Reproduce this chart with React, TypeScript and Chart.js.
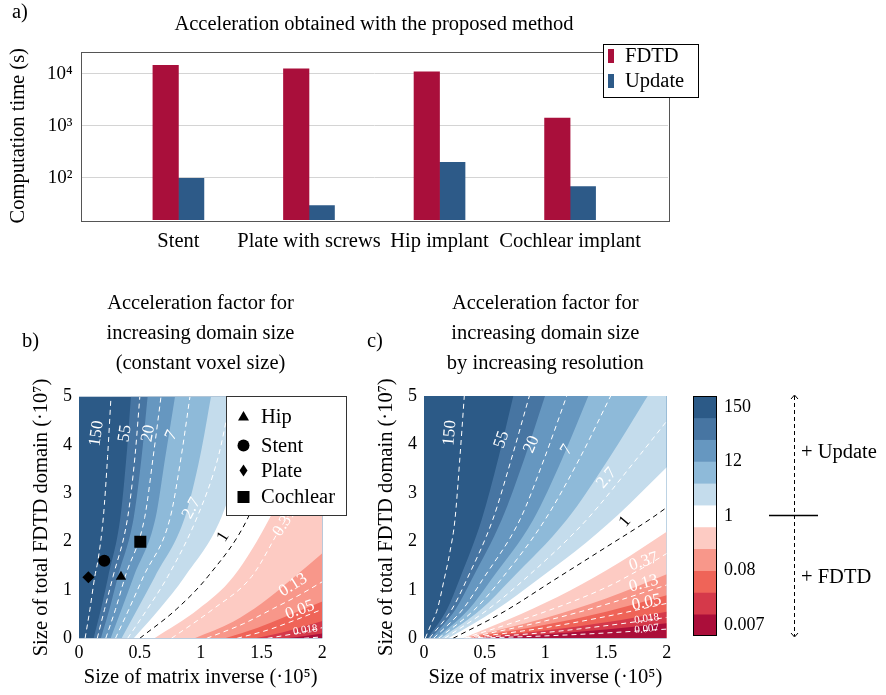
import React, { useEffect, useRef } from 'react';
import { Chart, registerables } from 'chart.js';

Chart.register(...registerables);

const W = 886;
const H = 695;
const FONT = "'Liberation Serif', 'Times New Roman', serif";
const TXT = 20.5; // word text size
const NUM = 18; // numeric tick size
Chart.defaults.font.family = FONT;
Chart.defaults.color = '#000';

// ---------------- Panel a data ----------------
const categories = ['Stent', 'Plate with screws', 'Hip implant', 'Cochlear implant'];
const seriesNames = ['FDTD', 'Update'];
const fdtdTimes = [14500, 12500, 10900, 1400];
const updateTimes = [97, 29, 198, 67];
const timeTickValues = [100, 1000, 10000];
const timeTickLabels = ['10²', '10³', '10⁴'];
const FDTD_COLOR = '#a90f3b';
const UPDATE_COLOR = '#2d5a88';

// ---------------- contour levels ----------------
const bandColors = ['#2c5a87', '#4775a2', '#6697c0', '#8ebad9', '#c4dcec', '#ffffff', '#fdcbc3', '#f8978a', '#ef6458', '#d5394a', '#ab0e3a'];
const lineLevels = [5, 4, 3, 2, 1, 0, -1, -2, -3, -4, -5]; // ln(acceleration)
const cbTickValues = [5, 2.5, 0, -2.5, -5];
const cbTickLabels = ['150', '12', '1', '0.08', '0.007'];

// panel b: band boundaries (ln = 4.5 ... -4.5), [x, y] points
const bEdges = [
  [[0.12, 0], [0.18, 0.6], [0.24, 1.28], [0.34, 2.5], [0.39, 3.76], [0.427, 5]],
  [[0.18, 0], [0.25, 0.6], [0.32, 1.28], [0.45, 2.5], [0.515, 3.76], [0.564, 5]],
  [[0.26, 0], [0.35, 0.6], [0.45, 1.28], [0.63, 2.5], [0.71, 3.76], [0.789, 5]],
  [[0.35, 0], [0.48, 0.6], [0.625, 1.28], [0.87, 2.5], [0.995, 3.76], [1.085, 5]],
  [[0.45, 0], [0.66, 0.6], [0.87, 1.28], [1.17, 2.5], [1.33, 3.76], [1.45, 5]],
  [[0.62, 0], [0.98, 0.6], [1.27, 1.28], [1.57, 2.5], [1.8, 3.76], [1.97, 5]],
  [[0.95, 0], [1.27, 0.35], [1.5, 0.72], [1.76, 1.25], [2, 1.76]],
  [[1.2, 0], [1.47, 0.22], [1.7, 0.45], [2, 0.76]],
  [[1.45, 0], [1.67, 0.12], [1.85, 0.25], [2, 0.36]],
  [[1.7, 0], [1.86, 0.05], [2, 0.1]],
];
// panel b: dashed contour lines (ln = 5 ... -5)
const bLines = [
  [[0.05, 0], [0.09, 0.6], [0.13, 1.28], [0.155, 1.6], [0.2, 2.5], [0.235, 3.76], [0.263, 5]],
  [[0.15, 0], [0.21, 0.6], [0.28, 1.28], [0.4, 2.5], [0.46, 3.76], [0.5, 5]],
  [[0.22, 0], [0.3, 0.6], [0.38, 1.28], [0.54, 2.5], [0.61, 3.76], [0.674, 5]],
  [[0.3, 0], [0.41, 0.6], [0.53, 1.28], [0.75, 2.5], [0.84, 3.76], [0.912, 5]],
  [[0.4, 0], [0.56, 0.6], [0.73, 1.28], [0.97, 2.5], [1.145, 3.76], [1.25, 5]],
  [[0.5, 0], [0.8, 0.6], [1.06, 1.28], [1.39, 2.5], [1.58, 3.76], [1.72, 5]],
  [[0.76, 0], [1.1, 0.6], [1.42, 1.28], [1.67, 2.34], [1.85, 3.0], [2, 3.6]],
  [[1.05, 0], [1.35, 0.3], [1.6, 0.62], [1.8, 0.88], [2, 1.17]],
  [[1.3, 0], [1.55, 0.17], [1.78, 0.38], [2, 0.6]],
  [[1.55, 0], [1.78, 0.1], [2, 0.22]],
  [[1.85, 0], [2, 0.03]],
];
const bLabelText = ['150', '55', '20', '7', '2.7', '1', '0.37', '0.13', '0.05', '0.018'];
const bLabelX = [0.145, 0.378, 0.57, 0.76, 0.926, 1.186, 1.69, 1.76, 1.816, 1.86];
const bLabelY = [4.24, 4.24, 4.24, 4.2, 2.69, 2.1, 2.4, 1.1, 0.586, 0.17];
const bLabelRot = [-82, -82, -80, -65, -62, -58, -58, -32, -20, -8];

// panel c
const cEdges = [
  [[0.03, 0], [0.19, 0.6], [0.29, 1.2], [0.475, 2.445], [0.611, 3.7], [0.736, 5]],
  [[0.06, 0], [0.26, 0.6], [0.39, 1.2], [0.64, 2.445], [0.826, 3.7], [0.997, 5]],
  [[0.1, 0], [0.37, 0.6], [0.55, 1.2], [0.9, 2.445], [1.138, 3.7], [1.354, 5]],
  [[0.14, 0], [0.47, 0.6], [0.71, 1.2], [1.176, 2.445], [1.521, 3.7], [1.843, 5]],
  [[0.2, 0], [0.6, 0.6], [0.93, 1.2], [1.25, 1.8], [1.6, 2.55], [2, 3.53]],
  [[0.32, 0], [0.8, 0.5], [1.2, 0.98], [1.6, 1.55], [2, 2.2]],
  [[0.33, 0], [1.0, 0.42], [1.5, 0.82], [2, 1.32]],
  [[0.34, 0], [1.0, 0.28], [1.5, 0.55], [2, 0.89]],
  [[0.36, 0], [1.0, 0.16], [1.5, 0.33], [2, 0.55]],
  [[0.38, 0], [1.0, 0.08], [1.5, 0.18], [2, 0.31]],
];
const cLines = [
  [[0.01, 0], [0.06, 0.3], [0.11, 0.6], [0.165, 1.2], [0.215, 1.8], [0.255, 2.445], [0.295, 3.7], [0.332, 5]],
  [[0.045, 0], [0.23, 0.6], [0.35, 1.2], [0.566, 2.445], [0.72, 3.7], [0.868, 5]],
  [[0.08, 0], [0.32, 0.6], [0.48, 1.2], [0.79, 2.445], [0.99, 3.7], [1.176, 5]],
  [[0.12, 0], [0.42, 0.6], [0.63, 1.2], [0.997, 2.445], [1.28, 3.7], [1.538, 5]],
  [[0.17, 0], [0.53, 0.6], [0.82, 1.2], [1.34, 2.445], [1.72, 3.6], [2, 4.48]],
  [[0.24, 0], [0.66, 0.55], [1.07, 1.2], [1.5, 1.88], [1.87, 2.47], [2, 2.7]],
  [[0.33, 0], [1.0, 0.55], [1.5, 1.05], [1.8, 1.45], [2, 1.75]],
  [[0.34, 0], [1.0, 0.36], [1.5, 0.7], [2, 1.1]],
  [[0.35, 0], [1.0, 0.22], [1.5, 0.45], [2, 0.72]],
  [[0.37, 0], [1.0, 0.12], [1.5, 0.26], [2, 0.43]],
  [[0.4, 0], [1.0, 0.05], [1.5, 0.11], [2, 0.19]],
];
const cLabelText = ['150', '55', '20', '7', '2.7', '1', '0.37', '0.13', '0.05', '0.018', '0.007'];
const cLabelX = [0.214, 0.64, 0.887, 1.176, 1.505, 1.657, 1.81, 1.81, 1.835, 1.835, 1.835];
const cLabelY = [4.24, 4.1, 4.0, 3.89, 3.31, 2.41, 1.58, 1.13, 0.74, 0.4, 0.19];
const cLabelRot = [-85, -72, -68, -58, -50, -50, -18, -15, -12, -8, -6];

// implants in panel b
const implantNames = ['Hip', 'Stent', 'Plate', 'Cochlear'];
const implantX = [0.345, 0.208, 0.077, 0.504];
const implantY = [1.276, 1.607, 1.262, 2.0];
const implantStyles = ['triangle', 'circle', 'rectRot', 'rect'];
const implantRadii = [6, 6, 6, 8.5];

type TextItem = { text: string; x: number; y: number; size: number; align?: CanvasTextAlign; rot?: number; color?: string };

function textPlugin(id: string, items: TextItem[]) {
  return {
    id,
    afterDraw(chart: any) {
      const ctx: CanvasRenderingContext2D = chart.ctx;
      ctx.save();
      for (const t of items) {
        ctx.save();
        ctx.font = `${t.size}px ${FONT}`;
        ctx.fillStyle = t.color || '#000';
        ctx.textAlign = t.align || 'center';
        ctx.textBaseline = 'middle';
        ctx.translate(t.x, t.y);
        if (t.rot) ctx.rotate((t.rot * Math.PI) / 180);
        ctx.fillText(t.text, 0, 0);
        ctx.restore();
      }
      ctx.restore();
    },
  };
}

const framePlugin = {
  id: 'frame',
  afterDatasetsDraw(chart: any) {
    const { ctx, chartArea: a } = chart;
    ctx.save();
    ctx.strokeStyle = '#555';
    ctx.lineWidth = 1;
    ctx.strokeRect(Math.round(a.left) + 0.5, Math.round(a.top) + 0.5, Math.round(a.right - a.left), Math.round(a.bottom - a.top));
    ctx.restore();
  },
};

const barLegendPlugin = {
  id: 'barLegend',
  afterDraw(chart: any) {
    const ctx: CanvasRenderingContext2D = chart.ctx;
    ctx.save();
    ctx.fillStyle = '#fff';
    ctx.fillRect(603.5, 44.5, 95, 53);
    ctx.strokeStyle = '#000';
    ctx.lineWidth = 1;
    ctx.strokeRect(603.5, 44.5, 95, 53);
    const cols = [FDTD_COLOR, UPDATE_COLOR];
    const ys = [56, 81];
    ctx.font = `${TXT}px ${FONT}`;
    ctx.textBaseline = 'middle';
    ctx.textAlign = 'left';
    seriesNames.forEach((n, i) => {
      ctx.fillStyle = cols[i];
      ctx.fillRect(608, ys[i] - 7, 6, 14);
      ctx.fillStyle = '#000';
      ctx.fillText(n, 625, ys[i] + 1);
    });
    ctx.restore();
  },
};

function bgPlugin(color: string) {
  return {
    id: 'bg',
    beforeDatasetsDraw(chart: any) {
      const { ctx, chartArea: a } = chart;
      ctx.save();
      ctx.fillStyle = color;
      ctx.fillRect(a.left, a.top, a.right - a.left, a.bottom - a.top);
      ctx.restore();
    },
  };
}

function contourLabelPlugin(texts: string[], xs: number[], ys: number[], rots: number[]) {
  return {
    id: 'clabels',
    afterDatasetsDraw(chart: any) {
      const { ctx, chartArea: a, scales } = chart;
      ctx.save();
      ctx.beginPath();
      ctx.rect(a.left, a.top, a.right - a.left, a.bottom - a.top);
      ctx.clip();
      texts.forEach((t, i) => {
        const px = scales.x.getPixelForValue(xs[i]);
        const py = scales.y.getPixelForValue(ys[i]);
        const size = t.length > 4 ? 11 : 17;
        ctx.save();
        ctx.translate(px, py);
        ctx.rotate((rots[i] * Math.PI) / 180);
        ctx.font = `${size}px ${FONT}`;
        ctx.fillStyle = t === '1' ? '#000' : '#fff';
        ctx.textAlign = 'center';
        ctx.textBaseline = 'middle';
        ctx.fillText(t, 0, 0);
        ctx.restore();
      });
      ctx.restore();
    },
  };
}

const implantLegendPlugin = {
  id: 'implantLegend',
  afterDraw(chart: any) {
    const ctx: CanvasRenderingContext2D = chart.ctx;
    ctx.save();
    const L = 226.5, T = 396.5, R = 346.5, B = 515.5;
    ctx.fillStyle = '#fff';
    ctx.fillRect(L, T, R - L, B - T);
    ctx.strokeStyle = '#333';
    ctx.lineWidth = 1;
    ctx.strokeRect(L, T, R - L, B - T);
    const ys = [416.5, 445.5, 470.5, 497];
    const mx = 243.5;
    ctx.fillStyle = '#000';
    ctx.beginPath();
    ctx.moveTo(mx, ys[0] - 5.5); ctx.lineTo(mx + 5.5, ys[0] + 4); ctx.lineTo(mx - 5.5, ys[0] + 4); ctx.closePath(); ctx.fill();
    ctx.beginPath(); ctx.arc(mx, ys[1], 6, 0, Math.PI * 2); ctx.fill();
    ctx.beginPath();
    ctx.moveTo(mx, ys[2] - 6); ctx.lineTo(mx + 4, ys[2]); ctx.lineTo(mx, ys[2] + 6); ctx.lineTo(mx - 4, ys[2]); ctx.closePath(); ctx.fill();
    ctx.fillRect(mx - 6, ys[3] - 6, 12, 12);
    ctx.font = `${TXT}px ${FONT}`;
    ctx.textAlign = 'left';
    ctx.textBaseline = 'middle';
    implantNames.forEach((n, i) => ctx.fillText(n, 261, ys[i] + 1));
    ctx.restore();
  },
};

// Fill polygon: the curve itself, continued past the top edge (outside the
// plot, clipped away) so the visible part reaches y = 5 without flattening.
function toPts(c: number[][]) {
  const pts = c.map(([x, y]) => ({ x, y }));
  const n = c.length;
  const [xl, yl] = c[n - 1];
  if (yl >= 5 && xl < 2) {
    const [xp, yp] = c[n - 2];
    const k = 0.6 / (yl - yp);
    const ey = yl + 0.6;
    pts.push({ x: xl + (xl - xp) * k, y: ey }, { x: 2.6, y: ey });
  }
  return pts;
}

function contourDatasets(edges: number[][][], lines: number[][][]) {
  const ds: any[] = [];
  edges.forEach((c, i) => {
    ds.push({
      data: toPts(c),
      fill: 'start',
      backgroundColor: bandColors[i + 1],
      borderColor: bandColors[i + 1],
      borderWidth: 0,
      pointRadius: 0,
      cubicInterpolationMode: 'monotone',
      order: 1000 - i,
    });
  });
  lines.forEach((c, i) => {
    ds.push({
      data: c.map(([x, y]) => ({ x, y })),
      fill: false,
      borderColor: lineLevels[i] === 0 ? '#000' : '#fff',
      borderWidth: 1,
      borderDash: [5, 4],
      pointRadius: 0,
      cubicInterpolationMode: 'monotone',
      order: 10,
    });
  });
  return ds;
}

function panelConfig(opts: {
  edges: number[][][]; lines: number[][][]; markers: boolean;
  labels: [string[], number[], number[], number[]];
  padLeft: number; padTop: number; padRight: number; texts: TextItem[];
}) {
  const datasets = contourDatasets(opts.edges, opts.lines);
  if (opts.markers) {
    datasets.push({
      data: implantX.map((x, i) => ({ x, y: implantY[i] })),
      showLine: false,
      pointStyle: implantStyles,
      pointRadius: implantRadii,
      pointBackgroundColor: '#000',
      pointBorderColor: '#000',
      pointBorderWidth: 0,
      order: 0,
    });
  }
  const plugins: any[] = [bgPlugin(bandColors[0]), contourLabelPlugin(...opts.labels), textPlugin('t', opts.texts)];
  if (opts.markers) plugins.push(implantLegendPlugin);
  const yWidth = 50;
  return {
    type: 'line' as const,
    data: { datasets },
    options: {
      animation: false as const,
      responsive: false,
      events: [],
      layout: { padding: { left: opts.padLeft, top: opts.padTop, right: opts.padRight, bottom: 5 } },
      plugins: { legend: { display: false }, tooltip: { enabled: false } },
      scales: {
        x: {
          type: 'linear' as const, min: 0, max: 2,
          ticks: { stepSize: 0.5, font: { size: NUM }, padding: 4, callback: (v: any) => String(v) },
          grid: { display: false, drawTicks: false },
          border: { display: false },
          title: { display: true, text: 'Size of matrix inverse (·10⁵)', font: { size: TXT }, padding: 0 },
          afterFit: (s: any) => { s.height = 51.7; },
        },
        y: {
          type: 'linear' as const, min: 0, max: 5,
          ticks: { stepSize: 1, font: { size: NUM }, padding: 7 },
          grid: { display: false, drawTicks: false },
          border: { display: false },
          title: { display: true, text: 'Size of total FDTD domain (·10⁷)', font: { size: TXT }, padding: 0 },
          afterFit: (s: any) => { s.width = yWidth; },
        },
      },
    },
    plugins,
  };
}

function barConfig() {
  return {
    type: 'bar' as const,
    data: {
      datasets: [
        { label: seriesNames[0], data: fdtdTimes.map((v, i) => ({ x: i, y: v })), backgroundColor: FDTD_COLOR, barThickness: 25.5 },
        { label: seriesNames[1], data: updateTimes.map((v, i) => ({ x: i, y: v })), backgroundColor: UPDATE_COLOR, barThickness: 25.5 },
      ],
    },
    options: {
      animation: false as const,
      responsive: false,
      events: [],
      layout: { padding: { left: 6, top: 51.5, right: W - 668, bottom: H - 220 - 40 } },
      plugins: { legend: { display: false }, tooltip: { enabled: false } },
      scales: {
        x: {
          type: 'linear' as const, min: -0.75, max: 3.75, offset: false,
          afterBuildTicks: (s: any) => { s.ticks = categories.map((_, i) => ({ value: i })); },
          ticks: { font: { size: TXT }, padding: 9, maxRotation: 0, autoSkip: false, callback: (v: any) => categories[v] },
          grid: { display: false, drawTicks: false, offset: false },
          border: { display: false },
          afterFit: (s: any) => { s.height = 40; },
        },
        y: {
          type: 'logarithmic' as const, min: 15.3, max: 26900,
          afterBuildTicks: (s: any) => { s.ticks = timeTickValues.map((v) => ({ value: v })); },
          ticks: { font: { size: NUM + 1 }, padding: 8, callback: (v: any) => timeTickLabels[timeTickValues.indexOf(v)] },
          grid: { color: '#d4d4d4', drawTicks: false },
          border: { display: false },
          title: { display: true, text: 'Computation time (s)', font: { size: TXT }, padding: 0 },
          afterFit: (s: any) => { s.width = 80.5 - 6; },
        },
      },
    },
    plugins: [
      framePlugin,
      textPlugin('ta', [
        { text: 'a)', x: 12, y: 13, size: TXT, align: 'left' },
        { text: 'Acceleration obtained with the proposed method', x: 374, y: 25, size: TXT },
      ]),
      barLegendPlugin,
    ],
  };
}

const colorbarDecor = {
  id: 'cbDecor',
  afterDraw(chart: any) {
    const { ctx, chartArea: a } = chart;
    ctx.save();
    ctx.strokeStyle = '#000';
    ctx.lineWidth = 1;
    ctx.strokeRect(Math.round(a.left) + 0.5, Math.round(a.top) + 0.5, Math.round(a.right - a.left) - 1, Math.round(a.bottom - a.top) - 1);
    const x = 794.5;
    ctx.setLineDash([4, 3]);
    ctx.beginPath(); ctx.moveTo(x, 396); ctx.lineTo(x, 636); ctx.stroke();
    ctx.setLineDash([]);
    ctx.beginPath();
    ctx.moveTo(x - 3.5, 399); ctx.lineTo(x, 395); ctx.lineTo(x + 3.5, 399);
    ctx.moveTo(x - 3.5, 633); ctx.lineTo(x, 637); ctx.lineTo(x + 3.5, 633);
    ctx.stroke();
    ctx.lineWidth = 1.3;
    ctx.beginPath(); ctx.moveTo(769, 515.5); ctx.lineTo(818, 515.5); ctx.stroke();
    ctx.font = `${TXT}px ${FONT}`;
    ctx.fillStyle = '#000';
    ctx.textAlign = 'left';
    ctx.textBaseline = 'middle';
    ctx.fillText('+ Update', 801, 453);
    ctx.fillText('+ FDTD', 801, 578);
    ctx.restore();
  },
};

function colorbarConfig() {
  return {
    type: 'bar' as const,
    data: {
      labels: [''],
      datasets: lineLevels.map((lv, i) => ({
        data: [[lv - 0.5, lv + 0.5]],
        backgroundColor: bandColors[i],
        borderWidth: 0,
        grouped: false,
        barPercentage: 1,
        categoryPercentage: 1,
      })),
    },
    options: {
      animation: false as const,
      responsive: false,
      events: [],
      layout: { padding: { left: 693, top: 396, right: W - 717 - 100, bottom: H - 636 } },
      plugins: { legend: { display: false }, tooltip: { enabled: false } },
      scales: {
        x: { display: false },
        y: {
          position: 'right' as const,
          type: 'linear' as const, min: -5.5, max: 5.5,
          afterBuildTicks: (s: any) => { s.ticks = cbTickValues.map((v) => ({ value: v })); },
          ticks: { font: { size: NUM }, padding: 7, callback: (v: any) => cbTickLabels[cbTickValues.indexOf(v)] },
          grid: { display: false, drawTicks: false },
          border: { display: false },
          afterFit: (s: any) => { s.width = 100; },
        },
      },
    },
    plugins: [colorbarDecor],
  };
}

export default function App() {
  const aRef = useRef<HTMLCanvasElement>(null);
  const bRef = useRef<HTMLCanvasElement>(null);
  const cRef = useRef<HTMLCanvasElement>(null);
  const dRef = useRef<HTMLCanvasElement>(null);

  useEffect(() => {
    const titleY = [304, 334, 364];
    const charts = [
      new Chart(aRef.current!, barConfig() as any),
      new Chart(bRef.current!, panelConfig({
        edges: bEdges, lines: bLines, markers: true,
        labels: [bLabelText, bLabelX, bLabelY, bLabelRot],
        padLeft: 79 - 50, padTop: 396.7, padRight: W - 322.3,
        texts: [
          { text: 'b)', x: 22, y: 342, size: TXT, align: 'left' },
          { text: 'Acceleration factor for', x: 200.5, y: titleY[0], size: TXT },
          { text: 'increasing domain size', x: 200.5, y: titleY[1], size: TXT },
          { text: '(constant voxel size)', x: 200.5, y: titleY[2], size: TXT },
        ],
      }) as any),
      new Chart(cRef.current!, panelConfig({
        edges: cEdges, lines: cLines, markers: false,
        labels: [cLabelText, cLabelX, cLabelY, cLabelRot],
        padLeft: 424 - 50, padTop: 396, padRight: W - 666.7,
        texts: [
          { text: 'c)', x: 367, y: 342, size: TXT, align: 'left' },
          { text: 'Acceleration factor for', x: 545.3, y: titleY[0], size: TXT },
          { text: 'increasing domain size', x: 545.3, y: titleY[1], size: TXT },
          { text: 'by increasing resolution', x: 545.3, y: titleY[2], size: TXT },
        ],
      }) as any),
      new Chart(dRef.current!, colorbarConfig() as any),
    ];
    return () => charts.forEach((c) => c.destroy());
  }, []);

  const style: React.CSSProperties = { position: 'fixed', left: 0, top: 0, width: W, height: H };
  return (
    <div style={{ width: W - 16, height: H - 16 }}>
      <canvas ref={aRef} width={W} height={H} style={style} />
      <canvas ref={bRef} width={W} height={H} style={style} />
      <canvas ref={cRef} width={W} height={H} style={style} />
      <canvas ref={dRef} width={W} height={H} style={style} />
    </div>
  );
}
